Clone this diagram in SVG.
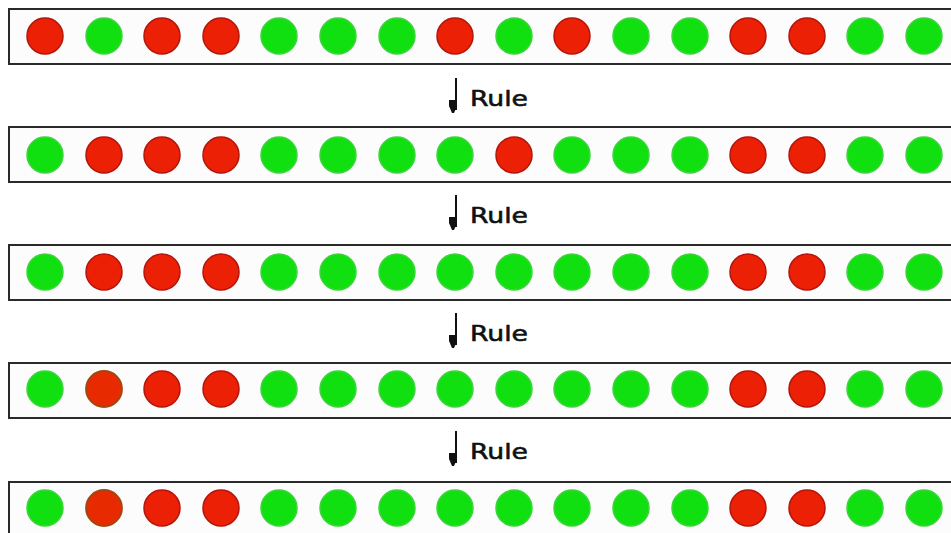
<svg xmlns="http://www.w3.org/2000/svg" width="951" height="533" viewBox="0 0 951 533">
<style>
.box{fill:#fcfcfc;stroke:#2a2a2a;stroke-width:2}
.r{fill:#ec2005;stroke:#b3140c;stroke-width:1.5}
.b{fill:#e82a00;stroke:#9c4a12;stroke-width:1.8}
.g{fill:#10e010;stroke:#3cd43c;stroke-width:1.5}
.lbl{font-family:"DejaVu Sans",sans-serif;font-size:22px;fill:#111;stroke:#111;stroke-width:0.6}
.arr{stroke:#111;stroke-width:2;fill:none}
.head{fill:#111}
</style>
<defs>
<circle id="R" r="18" class="r"/>
<circle id="B" r="18" class="b"/>
<circle id="G" r="18" class="g"/>
</defs>
<rect width="951" height="533" fill="#ffffff"/>
<g id="row1">
<rect class="box" x="9" y="9" width="950" height="55"/>
<use href="#R" x="45" y="36"/><use href="#G" x="104" y="36"/><use href="#R" x="162" y="36"/><use href="#R" x="221" y="36"/>
<use href="#G" x="279" y="36"/><use href="#G" x="338" y="36"/><use href="#G" x="397" y="36"/><use href="#R" x="455" y="36"/>
<use href="#G" x="514" y="36"/><use href="#R" x="572" y="36"/><use href="#G" x="631" y="36"/><use href="#G" x="690" y="36"/>
<use href="#R" x="748" y="36"/><use href="#R" x="807" y="36"/><use href="#G" x="865" y="36"/><use href="#G" x="924" y="36"/>
</g>
<g id="row2">
<rect class="box" x="9" y="127" width="950" height="55"/>
<use href="#G" x="45" y="155"/><use href="#R" x="104" y="155"/><use href="#R" x="162" y="155"/><use href="#R" x="221" y="155"/>
<use href="#G" x="279" y="155"/><use href="#G" x="338" y="155"/><use href="#G" x="397" y="155"/><use href="#G" x="455" y="155"/>
<use href="#R" x="514" y="155"/><use href="#G" x="572" y="155"/><use href="#G" x="631" y="155"/><use href="#G" x="690" y="155"/>
<use href="#R" x="748" y="155"/><use href="#R" x="807" y="155"/><use href="#G" x="865" y="155"/><use href="#G" x="924" y="155"/>
</g>
<g id="row3">
<rect class="box" x="9" y="245" width="950" height="55"/>
<use href="#G" x="45" y="272"/><use href="#R" x="104" y="272"/><use href="#R" x="162" y="272"/><use href="#R" x="221" y="272"/>
<use href="#G" x="279" y="272"/><use href="#G" x="338" y="272"/><use href="#G" x="397" y="272"/><use href="#G" x="455" y="272"/>
<use href="#G" x="514" y="272"/><use href="#G" x="572" y="272"/><use href="#G" x="631" y="272"/><use href="#G" x="690" y="272"/>
<use href="#R" x="748" y="272"/><use href="#R" x="807" y="272"/><use href="#G" x="865" y="272"/><use href="#G" x="924" y="272"/>
</g>
<g id="row4">
<rect class="box" x="9" y="363" width="950" height="55"/>
<use href="#G" x="45" y="389"/><use href="#B" x="104" y="389"/><use href="#R" x="162" y="389"/><use href="#R" x="221" y="389"/>
<use href="#G" x="279" y="389"/><use href="#G" x="338" y="389"/><use href="#G" x="397" y="389"/><use href="#G" x="455" y="389"/>
<use href="#G" x="514" y="389"/><use href="#G" x="572" y="389"/><use href="#G" x="631" y="389"/><use href="#G" x="690" y="389"/>
<use href="#R" x="748" y="389"/><use href="#R" x="807" y="389"/><use href="#G" x="865" y="389"/><use href="#G" x="924" y="389"/>
</g>
<g id="row5">
<rect class="box" x="9" y="482" width="950" height="60"/>
<use href="#G" x="45" y="508"/><use href="#B" x="104" y="508"/><use href="#R" x="162" y="508"/><use href="#R" x="221" y="508"/>
<use href="#G" x="279" y="508"/><use href="#G" x="338" y="508"/><use href="#G" x="397" y="508"/><use href="#G" x="455" y="508"/>
<use href="#G" x="514" y="508"/><use href="#G" x="572" y="508"/><use href="#G" x="631" y="508"/><use href="#G" x="690" y="508"/>
<use href="#R" x="748" y="508"/><use href="#R" x="807" y="508"/><use href="#G" x="865" y="508"/><use href="#G" x="924" y="508"/>
</g>
<g id="connectors">
<g transform="translate(0,0)">
<line class="arr" x1="456" y1="78" x2="456" y2="110"/>
<path class="head" d="M449,100 L457,100 L457,106 L454,113 L452,113 L449,106 Z"/>
<text class="lbl" x="470" y="106" textLength="58" lengthAdjust="spacingAndGlyphs">Rule</text>
</g>
<g transform="translate(0,117)">
<line class="arr" x1="456" y1="78" x2="456" y2="110"/>
<path class="head" d="M449,100 L457,100 L457,106 L454,113 L452,113 L449,106 Z"/>
<text class="lbl" x="470" y="106" textLength="58" lengthAdjust="spacingAndGlyphs">Rule</text>
</g>
<g transform="translate(0,235)">
<line class="arr" x1="456" y1="78" x2="456" y2="110"/>
<path class="head" d="M449,100 L457,100 L457,106 L454,113 L452,113 L449,106 Z"/>
<text class="lbl" x="470" y="106" textLength="58" lengthAdjust="spacingAndGlyphs">Rule</text>
</g>
<g transform="translate(0,353)">
<line class="arr" x1="456" y1="78" x2="456" y2="110"/>
<path class="head" d="M449,100 L457,100 L457,106 L454,113 L452,113 L449,106 Z"/>
<text class="lbl" x="470" y="106" textLength="58" lengthAdjust="spacingAndGlyphs">Rule</text>
</g>
</g>
</svg>
